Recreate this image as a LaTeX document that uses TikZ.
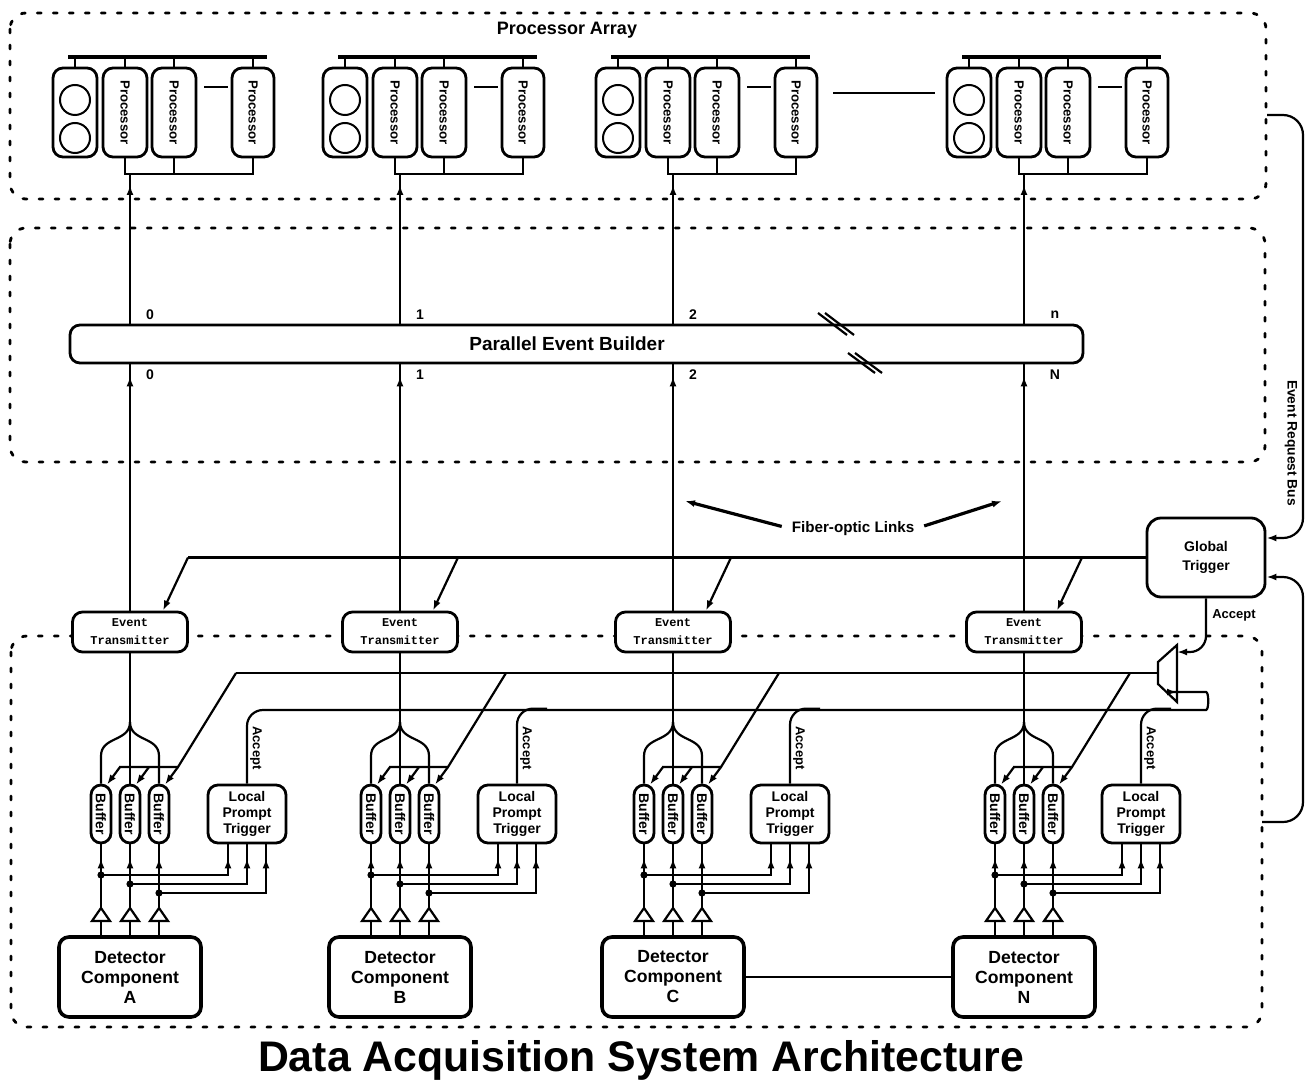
\documentclass[tikz,border=0pt]{standalone}
\usepackage{fontspec}
\usepackage{graphicx}
\setmainfont{Liberation Sans}
\newfontfamily\monof{Liberation Mono}
\usetikzlibrary{arrows.meta,decorations.markings,calc}
\pgfdeclarelayer{background}
\pgfsetlayers{background,main}
\begin{document}
\begin{tikzpicture}[x=0.5pt,y=-0.5pt,font=\bfseries,
  wire/.style={line width=1.1pt},
  dotbox/.style={line width=1.4pt,dash pattern=on 2pt off 6pt,line cap=round,rounded corners=8pt},
  rbox/.style={draw,line width=1.4pt,rounded corners=4pt,fill=white,inner sep=0pt,align=center},
  arr/.style={-{Latex[length=5pt,width=3.5pt]}},
  tipnear/.style={postaction={decorate},decoration={markings,mark=at position #1 with {\arrow{Latex[length=5pt,width=3.5pt]}}}},
  numl/.style={font=\fontsize{7}{7}\selectfont\bfseries,inner sep=0pt},
  txt/.style={inner sep=0pt,align=center}
]
\useasboundingbox (0,0) rectangle (1309,1085);

% ---------- big boxes ----------
\begin{pgfonlayer}{background}
\draw[dotbox] (10,13) rectangle (1266,199);
\draw[dotbox] (10,228) rectangle (1265,462);
\draw[dotbox] (11,636) rectangle (1262,1027);
\end{pgfonlayer}

\node[txt,font=\fontsize{9}{10}\selectfont\bfseries] (pal) at (567,30) {Processor Array};

% ---------- event builder ----------
\node[rbox,rounded corners=5pt,minimum width=506.5pt,minimum height=19pt] (peb) at (576.5,344) {};
\node[txt,font=\fontsize{9.5}{10}\selectfont\bfseries] (pebl) at (567,344) {Parallel Event Builder};
\draw[wire] (818,313) -- (847,335);
\draw[wire] (825,313) -- (854,335);
\draw[wire] (848,353) -- (875,373);
\draw[wire] (855,353) -- (882,373);

\node[numl] (nt1) at (150,315) {0};
\node[numl] (nt2) at (420,315) {1};
\node[numl] (nt3) at (693,315) {2};
\node[numl] (nt4) at (1055,315) {n};
\node[numl] (nb1) at (150,375) {0};
\node[numl] (nb2) at (420,375) {1};
\node[numl] (nb3) at (693,375) {2};
\node[numl] (nb4) at (1055,375) {N};

% ---------- global trigger ----------
\node[rbox,rounded corners=7pt,minimum width=59pt,minimum height=39.5pt,font=\fontsize{7}{9.5}\selectfont\bfseries] (gt) at (1206,557.5) {Global\\Trigger};
\node[txt,font=\fontsize{6.5}{7}\selectfont\bfseries] (gacc) at (1234,615) {Accept};

% OR gate
\draw[wire,fill=white] (1177,645) -- (1177,702) -- (1158,684) -- (1158,662) -- cycle;
\coordinate (orout) at (1158,673);
\coordinate (orin1) at (1177,652);
\coordinate (orin2) at (1177,692);
\draw[wire,arr,rounded corners=8pt] (gt.south) |- (orin1);

% right loops
\coordinate (erb) at (1267,115);
\coordinate (lbr) at (1262,822);
\draw[wire,arr,rounded corners=10pt] (erb) -| (1303,538) -- ($(gt.east)+(0,-19.5)$);
\draw[wire,arr,rounded corners=10pt] (lbr) -| (1303,577) -- ($(gt.east)+(0,19.5)$);
\node[txt,rotate=-90,font=\fontsize{6.9}{7}\selectfont\bfseries] (erbl) at (1291,443) {Event Request Bus};

% fiber optic label
\node[txt,font=\fontsize{7.6}{8}\selectfont\bfseries] (fol) at (853,529) {Fiber-optic Links};
\coordinate (foa) at (685,501);
\coordinate (fob) at (1002,501);
\draw[wire,line width=1.6pt,arr,shorten <=5pt] (fol.west) -- (foa);
\draw[wire,line width=1.6pt,arr,shorten <=5pt] (fol.east) -- (fob);

% ---------- per group ----------
\foreach \X/\i/\L in {130/1/A,400/2/B,673/3/C,1024/4/N}{
  \pgfmathsetmacro{\g}{\X-77}
  % processor cluster
  \node[rbox,rounded corners=5pt,minimum width=22pt,minimum height=44.5pt] (m\i) at (\g+22,112.5) {};
  \draw[line width=1pt] (\g+22,100) circle[radius=7.5pt];
  \draw[line width=1pt] (\g+22,138) circle[radius=7.5pt];
  \node[rbox,rounded corners=5pt,minimum width=22pt,minimum height=44.5pt] (pa\i) at (\g+72,112.5) {\rotatebox{-90}{\fontsize{6.6}{7}\selectfont Processor}};
  \node[rbox,rounded corners=5pt,minimum width=22pt,minimum height=44.5pt] (pb\i) at (\g+121,112.5) {\rotatebox{-90}{\fontsize{6.6}{7}\selectfont Processor}};
  \node[rbox,rounded corners=5pt,minimum width=21pt,minimum height=44.5pt] (pc\i) at (\g+200,112.5) {\rotatebox{-90}{\fontsize{6.6}{7}\selectfont Processor}};
  \draw[line width=2pt] (\g+15,57) -- (\g+214,57);
  \foreach \n in {m,pa,pb,pc}{\draw[wire] (\n\i.north) -- ++(0,-11);}
  \draw[wire] (pa\i.south) -- ++(0,16) -| (pc\i.south);
  \draw[wire] (pb\i.south) -- ++(0,16);
  \draw[wire] (\g+151,87) -- (\g+175,87);
  \coordinate (bus\i) at (\X,173);

  % transmitter
  \node[rbox,rounded corners=5pt,minimum width=57.5pt,minimum height=20pt,font=\monof\bfseries\fontsize{6}{9}\selectfont] (tx\i) at (\X,632) {Event\\Transmitter};
  \draw[wire,tipnear=-6pt] (tx\i.north) -- (tx\i.north |- peb.south);
  \draw[wire,tipnear=-6pt] (tx\i.north |- peb.north) -- (bus\i);

  % trigger to transmitter
  \coordinate (gl\i) at (\X+58,557.5);
  \draw[wire,arr] (gl\i) -- ($(tx\i.north)+(33,0)$);

  % buffers
  \foreach \j in {1,2,3}{
    \pgfmathsetmacro{\bx}{\X+29*(\j-2)}
    \node[rbox,rounded corners=5pt,minimum width=10pt,minimum height=29pt] (b\i\j) at (\bx,814) {\rotatebox{-90}{\fontsize{7}{7}\selectfont Buffer}};
  }
  % fan-out to transmitter
  \draw[wire] (tx\i.south) -- (b\i2.north);
  \draw[wire] (\X,722) .. controls (\X,742) and (\X-29,736) .. (\X-29,756) -- (b\i1.north);
  \draw[wire] (\X,722) .. controls (\X,742) and (\X+29,736) .. (\X+29,756) -- (b\i3.north);

  % readout enable from OR gate
  \coordinate (ol\i) at (\X+106,673);
  \coordinate (bb\i) at (\X+48,767);
  \draw[wire] (ol\i) -- (bb\i) -- (\X-11,767);
  \foreach \j in {1,2,3}{
    \pgfmathsetmacro{\bx}{\X+29*(\j-2)}
    \draw[wire,arr] (\bx+19,767) -- ($(b\i\j.north)+(6,1)$);
  }

  % local prompt trigger
  \node[rbox,rounded corners=5pt,minimum width=39pt,minimum height=29pt,font=\fontsize{7}{8}\selectfont\bfseries] (lpt\i) at (\X+117,814) {Local\\Prompt\\Trigger};
  \node[txt,rotate=-90,font=\fontsize{6.5}{7}\selectfont\bfseries] (acc\i) at (\X+126,748) {Accept};

  % detector
  \node[rbox,line width=1.8pt,rounded corners=5pt,minimum width=71pt,minimum height=40pt,font=\fontsize{8.8}{10}\selectfont\bfseries] (d\i) at (\X,977) {Detector\\Component\\\L};
  \foreach \j in {1,2,3}{
    \pgfmathsetmacro{\bx}{\X+29*(\j-2)}
    \pgfmathsetmacro{\yj}{866+9*\j}
    \draw[wire,tipnear=-7pt] (b\i\j.south |- d\i.north) -- (b\i\j.south);
    \draw[wire,fill=white] (\bx-9,921) -- (\bx+9,921) -- (\bx,908) -- cycle;
    \draw[wire,tipnear=-7pt] (\bx,\yj) -| ($(lpt\i.south)+({19*(\j-2)},0)$);
    \fill (\bx,\yj) circle[radius=1.8pt];
  }
}

% group-to-group links
\draw[wire] (gt.west) -- (gl1);
\draw[wire] (orout) -- (ol1);
\draw[wire] (833,93) -- (935,93);
\draw[wire] (d3.east) -- (d4.west);

% local accept bus to OR gate
\draw[wire,arr,rounded corners=8pt] (lpt1.north) |- (1190,710) .. controls (1209,710) and (1209,692) .. (1190,692) -- (orin2);
\foreach \i in {2,3,4}{
  \draw[wire,rounded corners=8pt] (lpt\i.north) |- ($(lpt\i.north)+(30,-75)$);
}

% title
\node[txt,font=\fontsize{21.4}{24}\selectfont\bfseries] (title) at (641,1060) {Data Acquisition System Architecture};
\end{tikzpicture}
\end{document}
